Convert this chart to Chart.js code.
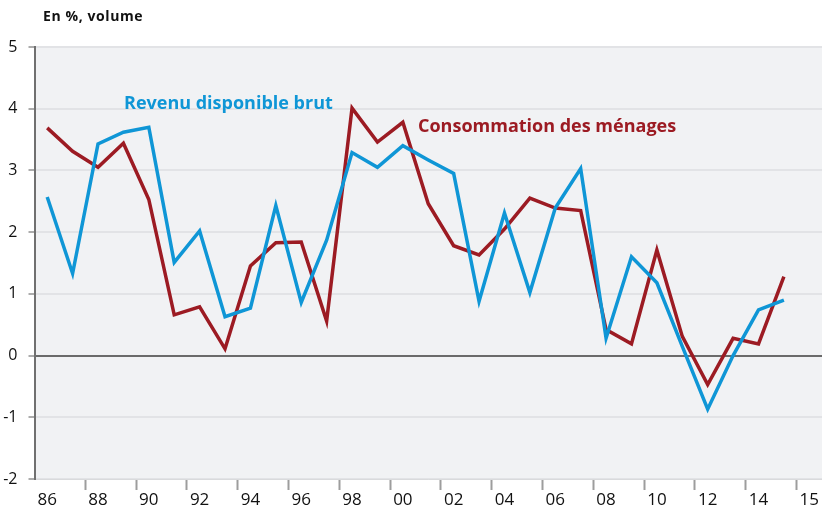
<!DOCTYPE html>
<html lang="fr">
<head>
<meta charset="utf-8">
<title>Revenu disponible brut et consommation des ménages</title>
<script src="https://cdn.jsdelivr.net/npm/chart.js@4.4.1/dist/chart.umd.min.js"></script>
<style>
  html, body { margin: 0; padding: 0; background: #ffffff; }
  #wrap { width: 822px; height: 510px; }
</style>
</head>
<body>
<div id="wrap"><canvas id="graphique" width="822" height="510"></canvas></div>
<script>
// Années 1986 à 2015 (+ une case vide pour le libellé "15")
const annees = ['86','87','88','89','90','91','92','93','94','95','96','97','98','99','00',
                '01','02','03','04','05','06','07','08','09','10','11','12','13','14','15','16'];
const etiquettes = ['86','','88','','90','','92','','94','','96','','98','','00',
                    '','02','','04','','06','','08','','10','','12','','14','','15'];

// Evolution en volume, en %
const revenuDisponible = [2.57, 1.33, 3.43, 3.62, 3.70, 1.51, 2.02, 0.63, 0.77, 2.43,
                          0.86, 1.87, 3.29, 3.05, 3.40, 3.17, 2.95, 0.88, 2.31, 1.02,
                          2.39, 3.03, 0.28, 1.60, 1.18, 0.15, -0.87, 0.00, 0.74, 0.90];
const consommation = [3.69, 3.31, 3.05, 3.44, 2.53, 0.66, 0.79, 0.11, 1.45, 1.83,
                      1.84, 0.56, 4.01, 3.46, 3.78, 2.46, 1.78, 1.63, 2.05, 2.55,
                      2.39, 2.35, 0.42, 0.19, 1.71, 0.31, -0.47, 0.28, 0.19, 1.28];

const BLEU = '#0f96d6';
const ROUGE = '#9c1b23';

Chart.defaults.font.family = "'Open Sans', sans-serif";
Chart.defaults.color = '#111111';

// fond gris de la zone de tracé + textes
const decor = {
    id: 'decor',
    beforeDraw(chart) {
        const { ctx, chartArea } = chart;
        ctx.save();
        ctx.fillStyle = '#f1f2f4';
        ctx.fillRect(chartArea.left, chartArea.top, chartArea.right - chartArea.left, chartArea.bottom - chartArea.top);
        ctx.restore();
    },
    afterDraw(chart) {
        const ctx = chart.ctx;
        ctx.save();
        ctx.textBaseline = 'alphabetic';
        ctx.textAlign = 'left';
        ctx.fillStyle = '#111111';
        ctx.font = "bold 14px 'Open Sans'";
        ctx.letterSpacing = '0.6px';
        ctx.fillText('En %, volume', 43, 21);
        ctx.letterSpacing = '0px';
        ctx.font = "bold 18px 'Open Sans'";
        ctx.fillStyle = BLEU;
        ctx.fillText('Revenu disponible brut', 124, 109);
        ctx.fillStyle = ROUGE;
        ctx.fillText('Consommation des ménages', 418, 131.5);
        ctx.restore();
    }
};

new Chart(document.getElementById('graphique'), {
    type: 'line',
    data: {
        labels: annees,
        datasets: [{
            label: 'Revenu disponible brut',
            data: revenuDisponible,
            borderColor: BLEU,
            borderWidth: 3.5,
            pointRadius: 0,
            tension: 0,
            fill: false
        }, {
            label: 'Consommation des ménages',
            data: consommation,
            borderColor: ROUGE,
            borderWidth: 3.5,
            pointRadius: 0,
            tension: 0,
            fill: false
        }]
    },
    options: {
        responsive: false,
        animation: false,
        devicePixelRatio: 1,
        layout: { padding: { top: 47, right: 0, left: 0, bottom: 0 } },
        plugins: {
            legend: { display: false },
            tooltip: { enabled: false }
        },
        scales: {
            x: {
                type: 'category',
                offset: true,
                afterFit(scale) { scale.height = 31; },
                border: { color: '#d9dadc', width: 1 },
                grid: {
                    offset: true,
                    drawOnChartArea: false,
                    tickLength: 11,
                    tickWidth: 2,
                    tickColor: (c) => (c.index > 0 && c.index % 2 === 0) ? '#9d9d9d' : 'rgba(0,0,0,0)',
                    color: (c) => (c.index > 0 && c.index % 2 === 0) ? '#9d9d9d' : 'rgba(0,0,0,0)'
                },
                ticks: {
                    autoSkip: false,
                    maxRotation: 0,
                    padding: 0,
                    font: { size: 17 },
                    callback: (v, i) => etiquettes[i]
                }
            },
            y: {
                min: -2,
                max: 5,
                afterFit(scale) { scale.width = 34.5; },
                border: { color: '#707070', width: 2 },
                grid: {
                    color: (c) => c.tick && c.tick.value === 0 ? '#6a6a6a' : '#e2e3e6',
                    lineWidth: 2,
                    tickLength: 6,
                    tickColor: '#acacac',
                    tickWidth: 2
                },
                ticks: {
                    stepSize: 1,
                    padding: 11,
                    font: { size: 16 }
                }
            }
        }
    },
    plugins: [decor]
});
</script>
</body>
</html>
